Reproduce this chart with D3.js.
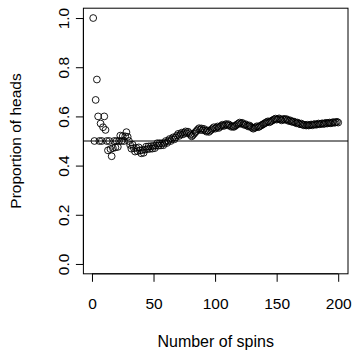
<!DOCTYPE html>
<html>
<head>
<meta charset="utf-8">
<script src="https://cdn.jsdelivr.net/npm/d3@7"></script>
<style>
  html, body { margin: 0; padding: 0; background: #fff; }
  svg text { font-family: "Liberation Sans", Arial, sans-serif; fill: #000; }
</style>
</head>
<body>
<div id="chart"></div>
<script>
// running proportion of heads after each spin
var proportion = [
  1.000, 0.500, 0.667, 0.750, 0.600, 0.500, 0.571, 0.500, 0.556, 0.600,
  0.545, 0.500, 0.462, 0.500, 0.467, 0.438, 0.471, 0.500, 0.474, 0.500,
  0.476, 0.500, 0.522, 0.500, 0.520, 0.500, 0.519, 0.536, 0.517, 0.500,
  0.484, 0.469, 0.485, 0.471, 0.457, 0.472, 0.459, 0.474, 0.462, 0.450,
  0.463, 0.452, 0.465, 0.477, 0.467, 0.478, 0.468, 0.479, 0.469, 0.480,
  0.471, 0.481, 0.491, 0.481, 0.491, 0.482, 0.491, 0.483, 0.492, 0.500,
  0.492, 0.500, 0.508, 0.500, 0.508, 0.515, 0.507, 0.515, 0.522, 0.529,
  0.521, 0.528, 0.534, 0.527, 0.533, 0.539, 0.532, 0.538, 0.532, 0.525,
  0.519, 0.524, 0.530, 0.536, 0.541, 0.547, 0.552, 0.545, 0.551, 0.544,
  0.549, 0.543, 0.538, 0.543, 0.537, 0.542, 0.546, 0.551, 0.556, 0.550,
  0.554, 0.559, 0.553, 0.558, 0.562, 0.566, 0.561, 0.565, 0.569, 0.564,
  0.568, 0.563, 0.558, 0.561, 0.557, 0.560, 0.564, 0.568, 0.571, 0.575,
  0.570, 0.574, 0.569, 0.565, 0.568, 0.563, 0.559, 0.563, 0.558, 0.554,
  0.550, 0.553, 0.556, 0.560, 0.556, 0.559, 0.562, 0.565, 0.568, 0.571,
  0.574, 0.577, 0.580, 0.576, 0.579, 0.582, 0.585, 0.588, 0.591, 0.587,
  0.589, 0.592, 0.588, 0.584, 0.587, 0.590, 0.586, 0.589, 0.585, 0.581,
  0.584, 0.580, 0.577, 0.579, 0.576, 0.572, 0.575, 0.571, 0.568, 0.571,
  0.567, 0.564, 0.566, 0.563, 0.566, 0.563, 0.565, 0.567, 0.564, 0.567,
  0.569, 0.566, 0.568, 0.571, 0.568, 0.570, 0.572, 0.569, 0.571, 0.574,
  0.571, 0.573, 0.575, 0.572, 0.574, 0.577, 0.574, 0.576, 0.578, 0.575
];
var spins = proportion.map(function (d, i) { return i + 1; });
var xTicks = [0, 50, 100, 150, 200];
var yTicks = [0, 0.2, 0.4, 0.6, 0.8, 1.0];
var reference = [0.5];
var xTitle = "Number of spins",
    yTitle = "Proportion of heads";

(function () {
    var w = 354, h = 352,
        pl = 83.4, pr = 348, pt = 8.2, pb = 273.8;

    // R style 4% padding on both axes
    var xPad = (d3.max(spins) - d3.min(spins)) * 0.04;
    var x = d3.scaleLinear()
        .domain([d3.min(spins) - xPad, d3.max(spins) + xPad])
        .range([pl, pr]);
    var y = d3.scaleLinear()
        .domain([0 - 0.04, 1 + 0.04])
        .range([pb, pt]);

    var svg = d3.select("#chart").append("svg")
        .attr("width", w)
        .attr("height", h);

    svg.append("rect")
        .attr("width", w).attr("height", h)
        .attr("fill", "#fff");

    // reference line
    svg.selectAll("line.ref").data(reference).enter()
        .append("line")
        .attr("class", "ref")
        .attr("x1", pl).attr("x2", pr)
        .attr("y1", function (d) { return y(d); })
        .attr("y2", function (d) { return y(d); })
        .attr("stroke", "#000")
        .attr("stroke-width", 1);

    // points
    svg.selectAll("circle").data(proportion).enter()
        .append("circle")
        .attr("cx", function (d, i) { return x(spins[i]); })
        .attr("cy", function (d) { return y(d); })
        .attr("r", 3.4)
        .attr("fill", "none")
        .attr("stroke", "#000")
        .attr("stroke-width", 0.9);

    // x axis
    var xAxis = d3.axisBottom(x)
        .tickValues(xTicks)
        .tickSize(8)
        .tickPadding(16)
        .tickFormat(d3.format("d"));
    var gx = svg.append("g")
        .attr("transform", "translate(0," + pb + ")")
        .call(xAxis);
    gx.select(".domain")
        .attr("d", "M" + x(xTicks[0]) + ",0H" + x(xTicks[xTicks.length - 1]));
    gx.selectAll("text")
        .attr("font-size", 15.5)
        .attr("font-family", "Liberation Sans, Arial, sans-serif");

    // y axis, labels parallel to the axis
    var yAxis = d3.axisLeft(y)
        .tickValues(yTicks)
        .tickSize(7.5)
        .tickFormat(d3.format(".1f"));
    var gy = svg.append("g")
        .attr("transform", "translate(" + pl + ",0)")
        .call(yAxis);
    gy.select(".domain")
        .attr("d", "M0," + y(yTicks[0]) + "V" + y(yTicks[yTicks.length - 1]));
    gy.selectAll("text")
        .attr("x", null).attr("dy", null)
        .attr("text-anchor", "middle")
        .attr("font-size", 15.5)
        .attr("font-family", "Liberation Sans, Arial, sans-serif")
        .attr("transform", "translate(-14,0) rotate(-90)");

    // box
    svg.append("rect")
        .attr("x", pl).attr("y", pt)
        .attr("width", pr - pl).attr("height", pb - pt)
        .attr("fill", "none")
        .attr("stroke", "#000")
        .attr("stroke-width", 1);

    // titles
    svg.append("text")
        .attr("x", (pl + pr) / 2)
        .attr("y", 347)
        .attr("text-anchor", "middle")
        .attr("font-size", 16)
        .text(xTitle);

    svg.append("text")
        .attr("transform", "translate(21," + (pt + pb) / 2 + ") rotate(-90)")
        .attr("text-anchor", "middle")
        .attr("font-size", 15.5)
        .text(yTitle);
})();
</script>
</body>
</html>
